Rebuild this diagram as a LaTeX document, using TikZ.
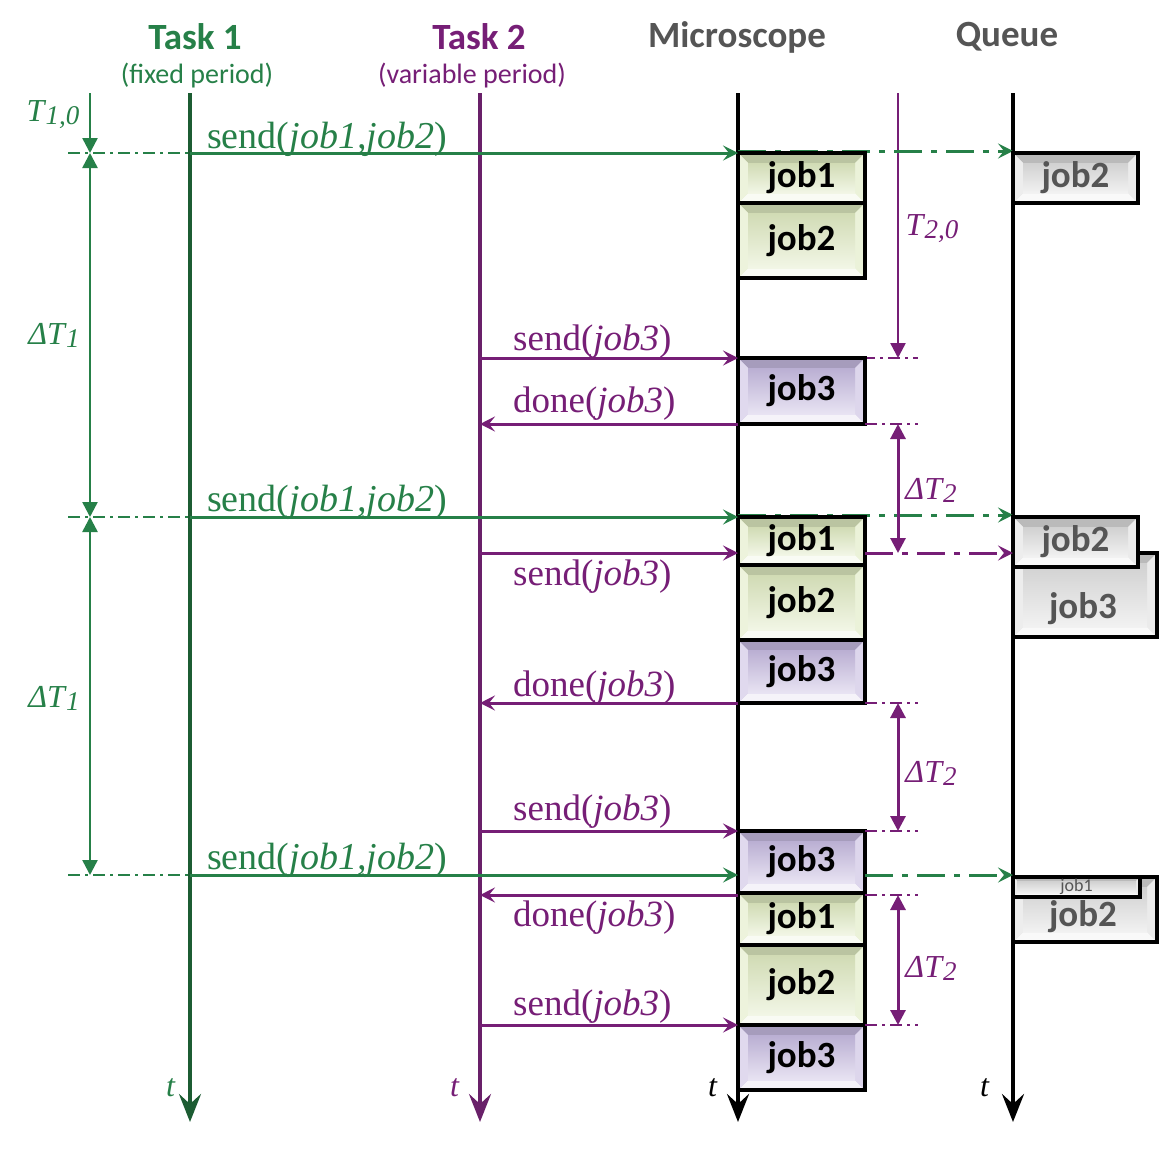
\documentclass[tikz,border=0pt]{standalone}
\usepackage{fontspec}
\setmainfont{Liberation Serif}
\newfontfamily\calib{Carlito}
\usetikzlibrary{calc,arrows.meta}
\definecolor{tgreen}{RGB}{38,128,72}
\definecolor{tgreenD}{RGB}{28,92,50}
\definecolor{tpurple}{RGB}{118,30,118}
\definecolor{tpurpleD}{RGB}{105,32,105}
\definecolor{tgray}{RGB}{85,85,85}
\definecolor{jgreen}{RGB}{222,233,192}
\definecolor{jpurple}{RGB}{198,186,224}
\definecolor{jgray}{RGB}{222,222,222}
\newcommand\tsub[2]{\textit{#1\kern1pt\raisebox{-3pt}{\fontsize{27}{28}\selectfont #2}}}
\tikzset{
  bevelfill/.style 2 args={path picture={
    \coordinate (ppa) at (path picture bounding box.north west);
    \coordinate (ppb) at (path picture bounding box.north east);
    \coordinate (ppc) at (path picture bounding box.south east);
    \coordinate (ppd) at (path picture bounding box.south west);
    \coordinate (ppA) at ($(ppa)+(#2,-#2)$);
    \coordinate (ppB) at ($(ppb)+(-#2,-#2)$);
    \coordinate (ppC) at ($(ppc)+(-#2,#2)$);
    \coordinate (ppD) at ($(ppd)+(#2,#2)$);
    \fill[#1!84!black] (ppa) -- (ppb) -- (ppB) -- (ppA) -- cycle;
    \fill[#1!18!white] (ppd) -- (ppc) -- (ppC) -- (ppD) -- cycle;
    \fill[#1!55!white] (ppa) -- (ppA) -- (ppD) -- (ppd) -- cycle;
    \fill[#1!60!white] (ppb) -- (ppB) -- (ppC) -- (ppc) -- cycle;
    \shade[top color=#1!94!black, bottom color=#1!40!white] (ppA) rectangle (ppC);
  }},
  jobbox/.style={draw=black, line width=4pt, inner sep=0pt, fill=#1, bevelfill={#1}{10pt},
    font=\calib\bfseries\fontsize{37}{40}\selectfont},
  qbox/.style={jobbox=jgray, text=tgray},
  qtext/.style={inner sep=0pt, text=tgray, font=\calib\bfseries\fontsize{37}{40}\selectfont},
  ttl/.style={inner sep=0pt, font=\calib\bfseries\fontsize{37}{40}\selectfont},
  sub/.style={inner sep=0pt, font=\calib\fontsize{28}{32}\selectfont},
  lifeline/.style={line width=4pt, -{Stealth[length=28pt,width=22pt,inset=10pt]}},
  msg/.style={line width=3pt, -{Stealth[length=15pt,width=15pt,inset=6pt]}},
  msglab/.style={anchor=base west, inner sep=0pt, font=\fontsize{37}{40}\selectfont},
  msglabB/.style={msglab, font=\fontsize{38}{40}\selectfont},
  qdash/.style={line width=3pt, dash pattern=on 28pt off 9pt on 6pt off 9pt,
    -{Stealth[length=15pt,width=15pt,inset=6pt]}},
  sdash/.style={line width=2pt, dash pattern=on 12pt off 5pt on 3pt off 5pt},
  dimA/.style={line width=2.5pt, tgreen},
  dimB/.style={line width=3pt, tpurple},
  mytip/.tip={Triangle[length=15pt,width=15pt]},
  ilab/.style={inner sep=0pt, font=\fontsize{32}{34}\selectfont},
}
\begin{document}
\begin{tikzpicture}[x=1pt,y=-1pt]
\useasboundingbox (0,0) rectangle (1160,1154);
% headers
\node[ttl, text=tgreen] (h1) at (195,37) {Task 1};
\node[sub, text=tgreen] (h1s) at (197,76) {(fixed period)};
\node[ttl, text=tpurple] (h2) at (479,37) {Task 2};
\node[sub, text=tpurple] (h2s) at (472,76) {(variable period)};
\node[ttl, text=tgray] (h3) at (737,37) {Microscope};
\node[ttl, text=tgray] (h4) at (1007,37) {Queue};
% columns
\coordinate (L1) at (190,93);
\coordinate (L2) at (480,93);
\coordinate (LM) at (738,93);
\coordinate (LQ) at (1013,93);
\coordinate (LT) at (898,93);
\coordinate (Lleft) at (90,93);
\coordinate (Lstart) at (68,93);
\coordinate (Lbox) at (865,93);
\coordinate (Lend) at (918,93);
\coordinate (ybot) at (0,1122);
% levels
\coordinate (ya) at (0,153);
\coordinate (yb) at (0,358);
\coordinate (yc) at (0,424);
\coordinate (yd) at (0,517);
\coordinate (ye) at (0,553);
\coordinate (yf) at (0,703);
\coordinate (yg) at (0,831);
\coordinate (yh) at (0,875);
\coordinate (yi) at (0,895);
\coordinate (yj) at (0,1025);
% lifelines
\draw[lifeline, tgreenD] (L1) -- (L1 |- ybot);
\draw[lifeline, tpurpleD] (L2) -- (L2 |- ybot);
\draw[lifeline, black] (LM) -- (LM |- ybot);
\draw[lifeline, black] (LQ) -- (LQ |- ybot);
\draw[line width=2.5pt, tpurple, -{mytip}] (LT) -- (LT |- yb);
\node[ilab, text=tpurple] (t20) at (932,229) {\tsub{T}{2,0}};
% left dimension
\draw[sdash, tgreen] (Lstart |- ya) -- (L1 |- ya);
\draw[sdash, tgreen] (Lstart |- yd) -- (L1 |- yd);
\draw[sdash, tgreen] (Lstart |- yh) -- (L1 |- yh);
\draw[dimA, -{mytip}] (Lleft) -- (Lleft |- ya);
\draw[dimA, {mytip}-{mytip}] (Lleft |- ya) -- (Lleft |- yd);
\draw[dimA, {mytip}-{mytip}] (Lleft |- yd) -- (Lleft |- yh);
\node[ilab, text=tgreen] (t10) at (53,115) {\tsub{T}{1,0}};
\node[ilab, text=tgreen] (dt1a) at (54,335) {\tsub{ΔT}{1}};
\node[ilab, text=tgreen] (dt1b) at (54,698) {\tsub{ΔT}{1}};
% dashed forwards to queue (behind boxes)
\draw[qdash, tgreen] (LM |- ya) ++(0,-2) coordinate (qa0) (qa0) -- (LQ |- qa0);
\draw[qdash, tgreen] (LM |- yd) ++(0,-2) coordinate (qd0) (qd0) -- (LQ |- qd0);
\draw[sdash, tpurple] (LM |- yb) -- (Lend |- yb);
% microscope jobs
\node[jobbox=jgreen, minimum width=127pt, minimum height=50pt] (ma1) at (801.5,178) {\raisebox{-2pt}{job1}};
\node[jobbox=jgreen, minimum width=127pt, minimum height=75pt] (ma2) at (801.5,240.5) {\raisebox{-2pt}{job2}};
\node[jobbox=jpurple, minimum width=127pt, minimum height=66pt] (ma3) at (801.5,391) {\raisebox{-2pt}{job3}};
\node[jobbox=jgreen, minimum width=127pt, minimum height=48pt] (mb1) at (801.5,541) {\raisebox{-2pt}{job1}};
\node[jobbox=jgreen, minimum width=127pt, minimum height=75pt] (mb2) at (801.5,602.5) {\raisebox{-2pt}{job2}};
\node[jobbox=jpurple, minimum width=127pt, minimum height=63pt] (mb3) at (801.5,671.5) {\raisebox{-2pt}{job3}};
\node[jobbox=jpurple, minimum width=127pt, minimum height=62pt] (mc3) at (801.5,862) {\raisebox{-2pt}{job3}};
\node[jobbox=jgreen, minimum width=127pt, minimum height=52pt] (mc1) at (801.5,919) {\raisebox{-2pt}{job1}};
\node[jobbox=jgreen, minimum width=127pt, minimum height=80pt] (mc2) at (801.5,985) {\raisebox{-2pt}{job2}};
\node[jobbox=jpurple, minimum width=127pt, minimum height=65pt] (md3) at (801.5,1057.5) {\raisebox{-2pt}{job3}};
% queue jobs
\node[qbox, minimum width=125pt, minimum height=50pt] (qa2) at (1075.5,178) {\raisebox{-2pt}{job2}};
\node[qbox, minimum width=144pt, minimum height=84pt] (qb3) at (1085,595) {};
\node[qtext] (qb3t) at (1083,609) {job3};
\node[qbox, minimum width=125pt, minimum height=50pt] (qb2) at (1075.5,542) {\raisebox{-2pt}{job2}};
\node[qbox, minimum width=144pt, minimum height=65pt] (qc2) at (1085,909.5) {};
\node[qtext] (qc2t) at (1083,917) {job2};
\node[draw=black, line width=4pt, inner sep=0pt, fill=jgray, bevelfill={jgray}{4pt},
  minimum width=127pt, minimum height=20pt, text=tgray,
  font=\calib\fontsize{18}{18}\selectfont] (qc1) at (1076.5,887) {\raisebox{-4pt}{job1}};
% messages
\draw[msg, tgreen] (L1 |- ya) -- (LM |- ya);
\node[msglabB, text=tgreen] (la) at (207,148) {send(\textit{job1,job2})};
\draw[msg, tpurple] (L2 |- yb) -- (LM |- yb);
\node[msglab, text=tpurple] (lb) at (513,350) {send(\textit{job3})};
\draw[msg, tpurple] (LM |- yc) -- (L2 |- yc);
\node[msglab, text=tpurple] (lc) at (513,412) {done(\textit{job3})};
\draw[sdash, tpurple] (Lbox |- yc) -- (Lend |- yc);
\draw[msg, tgreen] (L1 |- yd) -- (LM |- yd);
\node[msglabB, text=tgreen] (ld) at (207,511) {send(\textit{job1,job2})};
\draw[msg, tpurple] (L2 |- ye) -- (LM |- ye);
\node[msglab, text=tpurple] (le) at (513,585) {send(\textit{job3})};
\draw[qdash, tpurple] (Lbox |- ye) -- (LQ |- ye);
\draw[msg, tpurple] (LM |- yf) -- (L2 |- yf);
\node[msglab, text=tpurple] (lf) at (513,696) {done(\textit{job3})};
\draw[sdash, tpurple] (Lbox |- yf) -- (Lend |- yf);
\draw[msg, tpurple] (L2 |- yg) -- (LM |- yg);
\node[msglab, text=tpurple] (lg) at (513,820) {send(\textit{job3})};
\draw[sdash, tpurple] (Lbox |- yg) -- (Lend |- yg);
\draw[msg, tgreen] (L1 |- yh) -- (LM |- yh);
\node[msglabB, text=tgreen] (lh) at (207,869) {send(\textit{job1,job2})};
\draw[qdash, tgreen] (Lbox |- yh) -- (LQ |- yh);
\draw[msg, tpurple] (LM |- yi) -- (L2 |- yi);
\node[msglab, text=tpurple] (li) at (513,926) {done(\textit{job3})};
\draw[sdash, tpurple] (Lbox |- yi) -- (Lend |- yi);
\draw[msg, tpurple] (L2 |- yj) -- (LM |- yj);
\node[msglab, text=tpurple] (lj) at (513,1015) {send(\textit{job3})};
\draw[sdash, tpurple] (Lbox |- yj) -- (Lend |- yj);
% Delta T2
\draw[dimB, {mytip}-{mytip}] (LT |- yc) -- (LT |- ye);
\draw[dimB, {mytip}-{mytip}] (LT |- yf) -- (LT |- yg);
\draw[dimB, {mytip}-{mytip}] (LT |- yi) -- (LT |- yj);
\node[ilab, text=tpurple] (dt2a) at (931,490) {\tsub{ΔT}{2}};
\node[ilab, text=tpurple] (dt2b) at (931,773) {\tsub{ΔT}{2}};
\node[ilab, text=tpurple] (dt2c) at (931,968) {\tsub{ΔT}{2}};
% time labels
\node[ilab, text=tgreen] (tt1) at (171,1088) {\textit{t}};
\node[ilab, text=tpurple] (tt2) at (455,1088) {\textit{t}};
\node[ilab, text=black] (tt3) at (713,1088) {\textit{t}};
\node[ilab, text=black] (tt4) at (985,1088) {\textit{t}};
\end{tikzpicture}
\end{document}
